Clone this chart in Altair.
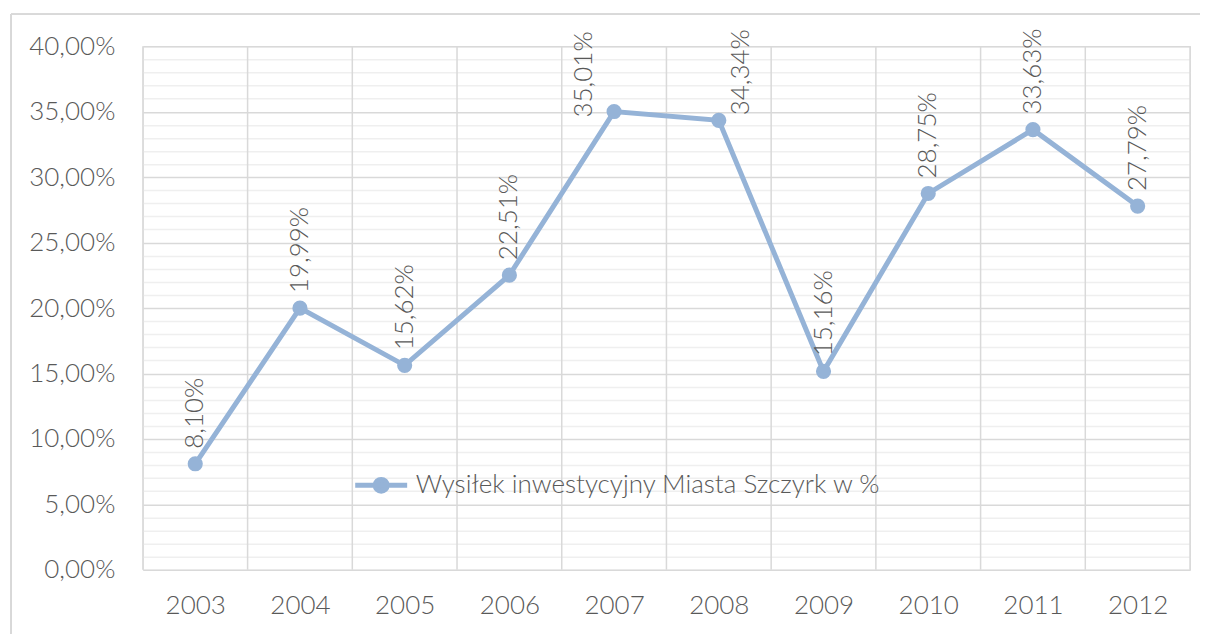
import altair as alt
import pandas as pd

years = [2003, 2004, 2005, 2006, 2007, 2008, 2009, 2010, 2011, 2012]
values = [8.10, 19.99, 15.62, 22.51, 35.01, 34.34, 15.16, 28.75, 33.63, 27.79]
series_name = "Wysiłek inwestycyjny Miasta Szczyrk w %"
y_ticks = list(range(0, 41))

LINE = "#95b3d7"
TEXT = "#595959"
FONT = "Lato"
FS = 26

df = pd.DataFrame({"year": years, "pct": values, "series": [series_name] * len(years)})
bounds = pd.DataFrame({"b": [y - 0.5 for y in years] + [years[-1] + 0.5]})

W, H = 1048, 524

xscale = alt.Scale(domain=[years[0] - 0.5, years[-1] + 0.5], nice=False, zero=False)
yscale = alt.Scale(domain=[0, 40], nice=False)

x_axis = alt.Axis(
    values=years, format="d", grid=False, ticks=False, domain=False, title=None,
    labelFont=FONT, labelFontSize=FS, labelColor=TEXT, labelPadding=23, labelFontWeight=300)
x_enc = alt.X("year:Q", scale=xscale, axis=x_axis)
y_enc = alt.Y("pct:Q", scale=yscale, axis=alt.Axis(
    values=y_ticks, grid=True, ticks=False, domain=False, title=None,
    gridColor={"condition": {"test": "datum.value % 5 === 0", "value": "#d9d9d9"}, "value": "#efefef"},
    gridWidth=1.5,
    labelExpr="datum.value % 5 === 0 ? replace(format(datum.value, '.2f'), '.', ',') + '%' : ''",
    labelFont=FONT, labelFontSize=FS, labelColor=TEXT, labelPadding=28, labelFontWeight=300))

base = alt.Chart(df)

vrules = alt.Chart(bounds).mark_rule(color="#d9d9d9", strokeWidth=1.5).encode(
    x=alt.X("b:Q", scale=xscale, axis=x_axis))

legend_path = "M-1,0L1,0M0.23,0A0.23,0.23,0,1,1,-0.23,0A0.23,0.23,0,1,1,0.23,0Z"
color_enc = alt.Color("series:N", scale=alt.Scale(range=[LINE]), legend=alt.Legend(
    title=None, orient="none", legendX=210, legendY=411, symbolType=legend_path,
    symbolSize=2704, symbolStrokeWidth=5, symbolFillColor=LINE, symbolStrokeColor=LINE,
    labelFont=FONT, labelFontSize=FS, labelColor=TEXT, labelFontWeight=300, labelOffset=6,
    labelLimit=0))

line = base.mark_line(strokeWidth=5).encode(x=x_enc, y=y_enc, color=color_enc)
pts = base.mark_point(filled=True, size=230, opacity=1).encode(
    x=x_enc, y=y_enc, color=alt.Color("series:N", scale=alt.Scale(range=[LINE]), legend=None))

lab_base = base.transform_calculate(
    label="replace(format(datum.pct, '.2f'), '.', ',') + '%'")
text_style = dict(angle=270, align="left", baseline="middle", font=FONT,
                  fontSize=FS, fontWeight=300, color=TEXT)
lab_normal = lab_base.transform_filter("datum.year != 2007 && datum.year != 2008").mark_text(
    dx=15, **text_style).encode(x=x_enc, y=y_enc, text="label:N")
lab_2007 = lab_base.transform_filter("datum.year == 2007").mark_text(
    dx=-6, dy=-30, **text_style).encode(x=x_enc, y=y_enc, text="label:N")
lab_2008 = lab_base.transform_filter("datum.year == 2008").mark_text(
    dx=5, dy=22, **text_style).encode(x=x_enc, y=y_enc, text="label:N")

frame_v = alt.Chart(df).mark_rule(color="#d9d9d9", strokeWidth=1.5).encode(
    x=alt.value(-132), y=alt.value(-32), y2=alt.value(588))
frame_h = alt.Chart(df).mark_rule(color="#d9d9d9", strokeWidth=1.5).encode(
    x=alt.value(-132), x2=alt.value(1058), y=alt.value(-32))

chart = alt.layer(
    vrules, frame_v, frame_h, line, pts, lab_normal, lab_2007, lab_2008
).properties(
    width=W, height=H,
    padding={"left": 2, "top": 5, "right": 0, "bottom": 0},
).configure_view(stroke=None).configure(background="white")

chart.save("out.html", embed_options={"renderer": "svg", "actions": False})
